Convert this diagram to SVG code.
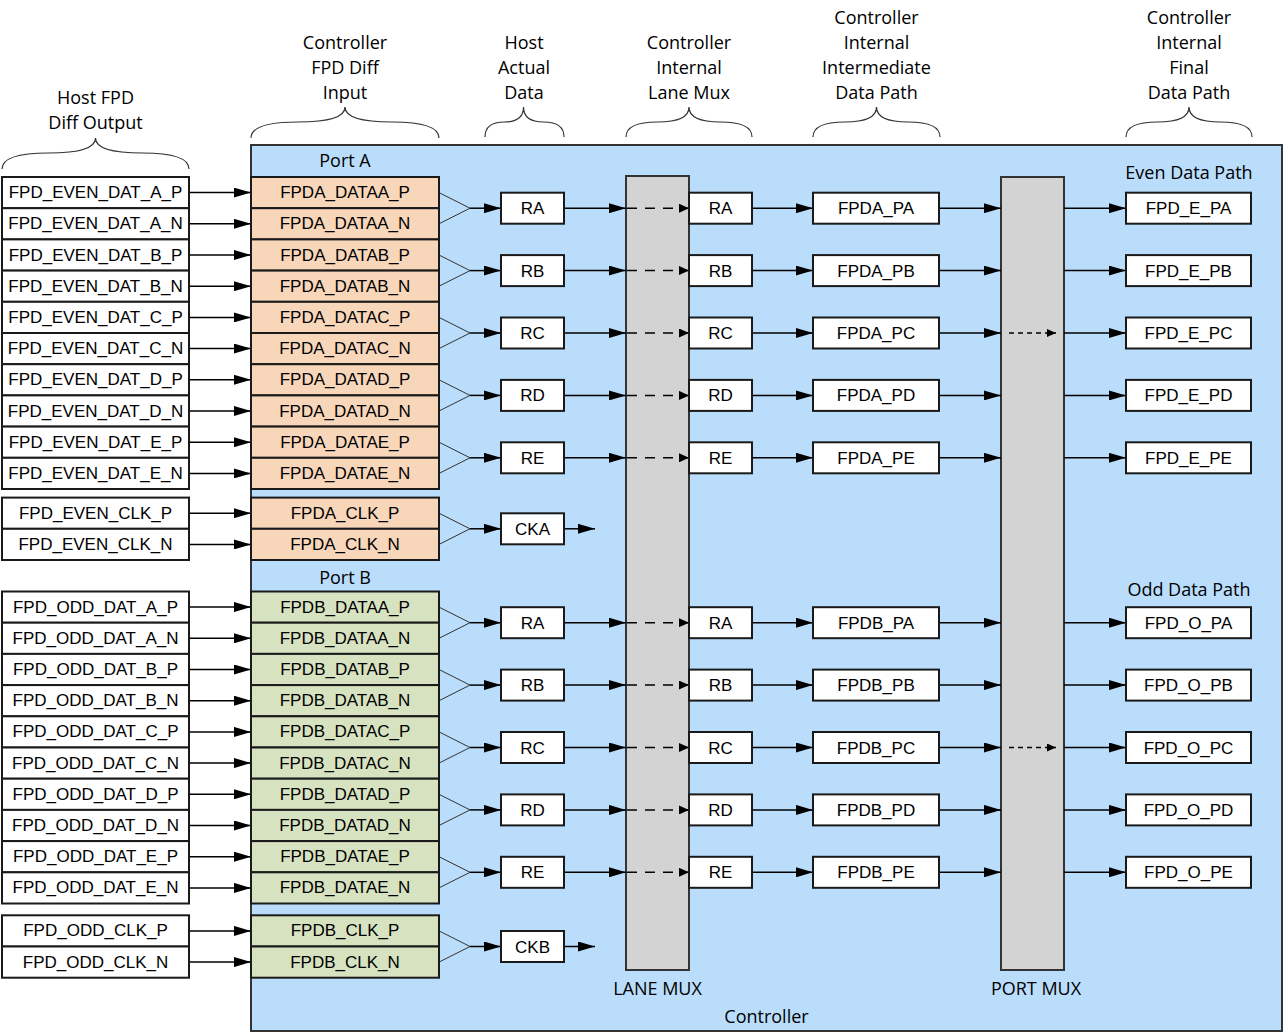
<svg xmlns="http://www.w3.org/2000/svg" width="1284" height="1034" viewBox="0 0 1284 1034">
<style>
.bx{fill:#fff;stroke:#1a1a1a;stroke-width:2}
.pe{fill:#F8D6BA;stroke:#1a1a1a;stroke-width:2}
.gr{fill:#D7E3C0;stroke:#1a1a1a;stroke-width:2}
.mux{fill:#D3D3D3;stroke:#333;stroke-width:2}
.ctl{fill:#BADDFB;stroke:#333;stroke-width:2}
.t{font-family:"Liberation Sans",Arial,sans-serif;font-size:17px;text-anchor:middle;fill:#000}
.h{font-family:"Open Sans","Liberation Sans",sans-serif;font-size:18px;text-anchor:middle;fill:#000}
.c{stroke:#000;stroke-width:1.5;fill:none}
.a{marker-end:url(#ah)}
.m{stroke:#333;stroke-width:1;fill:none}
.d1{stroke-dasharray:10 8;marker-end:url(#sh)}
.d2{stroke-dasharray:5 4;marker-end:url(#sh2)}
.br{stroke:#333;stroke-width:1.2;fill:none}
</style>
<defs>
<marker id="ah" markerUnits="userSpaceOnUse" markerWidth="17" markerHeight="10" refX="17" refY="5" orient="auto"><path d="M0,0 L17,5 L0,10 Z" fill="#000"/></marker>
<marker id="sh" markerUnits="userSpaceOnUse" markerWidth="10" markerHeight="9" refX="10" refY="4.5" orient="auto"><path d="M0,0 L10,4.5 L0,9 Z" fill="#000"/></marker>
<marker id="sh2" markerUnits="userSpaceOnUse" markerWidth="9" markerHeight="8" refX="9" refY="4" orient="auto"><path d="M0,0 L9,4 L0,8 Z" fill="#000"/></marker>
</defs>

<g id="headers">
<text class="h" x="95.5" y="104">Host FPD</text>
<text class="h" x="95.5" y="129">Diff Output</text>
<text class="h" x="345" y="48.5">Controller</text>
<text class="h" x="345" y="73.5">FPD Diff</text>
<text class="h" x="345" y="98.5">Input</text>
<text class="h" x="524" y="48.5">Host</text>
<text class="h" x="524" y="73.5">Actual</text>
<text class="h" x="524" y="98.5">Data</text>
<text class="h" x="689" y="48.5">Controller</text>
<text class="h" x="689" y="73.5">Internal</text>
<text class="h" x="689" y="98.5">Lane Mux</text>
<text class="h" x="876.5" y="23.5">Controller</text>
<text class="h" x="876.5" y="48.5">Internal</text>
<text class="h" x="876.5" y="73.5">Intermediate</text>
<text class="h" x="876.5" y="98.5">Data Path</text>
<text class="h" x="1189" y="23.5">Controller</text>
<text class="h" x="1189" y="48.5">Internal</text>
<text class="h" x="1189" y="73.5">Final</text>
<text class="h" x="1189" y="98.5">Data Path</text>
</g>
<g id="braces">
<path class="br" d="M2,169 Q2,153 48.75,153 Q95.5,153 95.5,138 Q95.5,153 142.25,153 Q189,153 189,169"/>
<path class="br" d="M251,138 Q251,122 298,122 Q345,122 345,107 Q345,122 392,122 Q439,122 439,138"/>
<path class="br" d="M485,137 Q485,122 504.25,122 Q523.5,122 523.5,107 Q523.5,122 543.75,122 Q564,122 564,137"/>
<path class="br" d="M626,137 Q626,122 657.5,122 Q689,122 689,107 Q689,122 720.5,122 Q752,122 752,137"/>
<path class="br" d="M813,137 Q813,122 844.75,122 Q876.5,122 876.5,107 Q876.5,122 908.25,122 Q940,122 940,137"/>
<path class="br" d="M1126,137 Q1126,122 1157.5,122 Q1189,122 1189,107 Q1189,122 1220.5,122 Q1252,122 1252,137"/>
</g>

<g id="controller">
<rect class="ctl" x="251" y="145" width="1031" height="886"/>
<text class="h" x="766.5" y="1023">Controller</text>
<text class="h" x="345" y="167">Port A</text>
<text class="h" x="345" y="584">Port B</text>
<text class="h" x="1189" y="179">Even Data Path</text>
<text class="h" x="1189" y="596">Odd Data Path</text>
</g>

<g id="lane-mux">
<rect class="mux" x="626" y="176" width="63" height="794"/>
<text class="h" x="657.5" y="995">LANE MUX</text>
</g>
<g id="port-mux">
<rect class="mux" x="1001" y="177" width="63" height="793"/>
<text class="h" x="1036" y="995">PORT MUX</text>
</g>

<g id="connectors">
<path class="c a" d="M189,192.6H251"/><path class="c a" d="M189,223.8H251"/><path class="c a" d="M189,255H251"/><path class="c a" d="M189,286.2H251"/><path class="c a" d="M189,317.4H251"/><path class="c a" d="M189,348.6H251"/><path class="c a" d="M189,379.8H251"/><path class="c a" d="M189,411H251"/><path class="c a" d="M189,442.2H251"/><path class="c a" d="M189,473.4H251"/>
<path class="c a" d="M189,513.2H251"/><path class="c a" d="M189,544.4H251"/>
<path class="c a" d="M189,607.1H251"/><path class="c a" d="M189,638.3H251"/><path class="c a" d="M189,669.5H251"/><path class="c a" d="M189,700.7H251"/><path class="c a" d="M189,731.9H251"/><path class="c a" d="M189,763.1H251"/><path class="c a" d="M189,794.3H251"/><path class="c a" d="M189,825.5H251"/><path class="c a" d="M189,856.7H251"/><path class="c a" d="M189,887.9H251"/>
<path class="c a" d="M189,930.9H251"/><path class="c a" d="M189,962.1H251"/>
<path class="m" d="M439,192.6L470,208.2L439,223.8 M439,255L470,270.6L439,286.2 M439,317.4L470,333L439,348.6 M439,379.8L470,395.4L439,411 M439,442.2L470,457.8L439,473.4 M439,513.2L470,528.8L439,544.4"/>
<path class="m" d="M439,607.1L470,622.7L439,638.3 M439,669.5L470,685.1L439,700.7 M439,731.9L470,747.5L439,763.1 M439,794.3L470,809.9L439,825.5 M439,856.7L470,872.3L439,887.9 M439,930.9L470,946.5L439,962.1"/>
<path class="c a" d="M470,208.2H501"/><path class="c a" d="M470,270.6H501"/><path class="c a" d="M470,333H501"/><path class="c a" d="M470,395.4H501"/><path class="c a" d="M470,457.8H501"/><path class="c a" d="M470,528.8H501"/>
<path class="c a" d="M470,622.7H501"/><path class="c a" d="M470,685.1H501"/><path class="c a" d="M470,747.5H501"/><path class="c a" d="M470,809.9H501"/><path class="c a" d="M470,872.3H501"/><path class="c a" d="M470,946.5H501"/>
<path class="c a" d="M564,528.8H595"/><path class="c a" d="M564,946.5H595"/>
<path class="c a" d="M564,208.2H626"/><path class="c a" d="M564,270.6H626"/><path class="c a" d="M564,333H626"/><path class="c a" d="M564,395.4H626"/><path class="c a" d="M564,457.8H626"/>
<path class="c a" d="M564,622.7H626"/><path class="c a" d="M564,685.1H626"/><path class="c a" d="M564,747.5H626"/><path class="c a" d="M564,809.9H626"/><path class="c a" d="M564,872.3H626"/>
<path class="c d1" d="M627,208.2H689"/><path class="c d1" d="M627,270.6H689"/><path class="c d1" d="M627,333H689"/><path class="c d1" d="M627,395.4H689"/><path class="c d1" d="M627,457.8H689"/>
<path class="c d1" d="M627,622.7H689"/><path class="c d1" d="M627,685.1H689"/><path class="c d1" d="M627,747.5H689"/><path class="c d1" d="M627,809.9H689"/><path class="c d1" d="M627,872.3H689"/>
<path class="c a" d="M752,208.2H813"/><path class="c a" d="M752,270.6H813"/><path class="c a" d="M752,333H813"/><path class="c a" d="M752,395.4H813"/><path class="c a" d="M752,457.8H813"/>
<path class="c a" d="M752,622.7H813"/><path class="c a" d="M752,685.1H813"/><path class="c a" d="M752,747.5H813"/><path class="c a" d="M752,809.9H813"/><path class="c a" d="M752,872.3H813"/>
<path class="c a" d="M939,208.2H1001"/><path class="c a" d="M939,270.6H1001"/><path class="c a" d="M939,333H1001"/><path class="c a" d="M939,395.4H1001"/><path class="c a" d="M939,457.8H1001"/>
<path class="c a" d="M939,622.7H1001"/><path class="c a" d="M939,685.1H1001"/><path class="c a" d="M939,747.5H1001"/><path class="c a" d="M939,809.9H1001"/><path class="c a" d="M939,872.3H1001"/>
<path class="c d2" d="M1009,333H1056"/><path class="c d2" d="M1009,747.5H1056"/>
<path class="c a" d="M1064,208.2H1126"/><path class="c a" d="M1064,270.6H1126"/><path class="c a" d="M1064,333H1126"/><path class="c a" d="M1064,395.4H1126"/><path class="c a" d="M1064,457.8H1126"/>
<path class="c a" d="M1064,622.7H1126"/><path class="c a" d="M1064,685.1H1126"/><path class="c a" d="M1064,747.5H1126"/><path class="c a" d="M1064,809.9H1126"/><path class="c a" d="M1064,872.3H1126"/>
</g>

<g id="host-even">
<g id="h-ea-p"><rect class="bx" x="2" y="177" width="187" height="31.2"/><text class="t" x="95.5" y="198.1">FPD_EVEN_DAT_A_P</text></g>
<g id="h-ea-n"><rect class="bx" x="2" y="208.2" width="187" height="31.2"/><text class="t" x="95.5" y="229.3">FPD_EVEN_DAT_A_N</text></g>
<g id="h-eb-p"><rect class="bx" x="2" y="239.4" width="187" height="31.2"/><text class="t" x="95.5" y="260.5">FPD_EVEN_DAT_B_P</text></g>
<g id="h-eb-n"><rect class="bx" x="2" y="270.6" width="187" height="31.2"/><text class="t" x="95.5" y="291.7">FPD_EVEN_DAT_B_N</text></g>
<g id="h-ec-p"><rect class="bx" x="2" y="301.8" width="187" height="31.2"/><text class="t" x="95.5" y="322.9">FPD_EVEN_DAT_C_P</text></g>
<g id="h-ec-n"><rect class="bx" x="2" y="333" width="187" height="31.2"/><text class="t" x="95.5" y="354.1">FPD_EVEN_DAT_C_N</text></g>
<g id="h-ed-p"><rect class="bx" x="2" y="364.2" width="187" height="31.2"/><text class="t" x="95.5" y="385.3">FPD_EVEN_DAT_D_P</text></g>
<g id="h-ed-n"><rect class="bx" x="2" y="395.4" width="187" height="31.2"/><text class="t" x="95.5" y="416.5">FPD_EVEN_DAT_D_N</text></g>
<g id="h-ee-p"><rect class="bx" x="2" y="426.6" width="187" height="31.2"/><text class="t" x="95.5" y="447.7">FPD_EVEN_DAT_E_P</text></g>
<g id="h-ee-n"><rect class="bx" x="2" y="457.8" width="187" height="31.2"/><text class="t" x="95.5" y="478.9">FPD_EVEN_DAT_E_N</text></g>
<g id="h-eclk-p"><rect class="bx" x="2" y="497.6" width="187" height="31.2"/><text class="t" x="95.5" y="518.7">FPD_EVEN_CLK_P</text></g>
<g id="h-eclk-n"><rect class="bx" x="2" y="528.8" width="187" height="31.2"/><text class="t" x="95.5" y="549.9">FPD_EVEN_CLK_N</text></g>
</g>
<g id="host-odd">
<g id="h-oa-p"><rect class="bx" x="2" y="591.5" width="187" height="31.2"/><text class="t" x="95.5" y="612.6">FPD_ODD_DAT_A_P</text></g>
<g id="h-oa-n"><rect class="bx" x="2" y="622.7" width="187" height="31.2"/><text class="t" x="95.5" y="643.8">FPD_ODD_DAT_A_N</text></g>
<g id="h-ob-p"><rect class="bx" x="2" y="653.9" width="187" height="31.2"/><text class="t" x="95.5" y="675">FPD_ODD_DAT_B_P</text></g>
<g id="h-ob-n"><rect class="bx" x="2" y="685.1" width="187" height="31.2"/><text class="t" x="95.5" y="706.2">FPD_ODD_DAT_B_N</text></g>
<g id="h-oc-p"><rect class="bx" x="2" y="716.3" width="187" height="31.2"/><text class="t" x="95.5" y="737.4">FPD_ODD_DAT_C_P</text></g>
<g id="h-oc-n"><rect class="bx" x="2" y="747.5" width="187" height="31.2"/><text class="t" x="95.5" y="768.6">FPD_ODD_DAT_C_N</text></g>
<g id="h-od-p"><rect class="bx" x="2" y="778.7" width="187" height="31.2"/><text class="t" x="95.5" y="799.8">FPD_ODD_DAT_D_P</text></g>
<g id="h-od-n"><rect class="bx" x="2" y="809.9" width="187" height="31.2"/><text class="t" x="95.5" y="831">FPD_ODD_DAT_D_N</text></g>
<g id="h-oe-p"><rect class="bx" x="2" y="841.1" width="187" height="31.2"/><text class="t" x="95.5" y="862.2">FPD_ODD_DAT_E_P</text></g>
<g id="h-oe-n"><rect class="bx" x="2" y="872.3" width="187" height="31.2"/><text class="t" x="95.5" y="893.4">FPD_ODD_DAT_E_N</text></g>
<g id="h-oclk-p"><rect class="bx" x="2" y="915.3" width="187" height="31.2"/><text class="t" x="95.5" y="936.4">FPD_ODD_CLK_P</text></g>
<g id="h-oclk-n"><rect class="bx" x="2" y="946.5" width="187" height="31.2"/><text class="t" x="95.5" y="967.6">FPD_ODD_CLK_N</text></g>
</g>

<g id="port-a">
<g id="a-a-p"><rect class="pe" x="251" y="177" width="188" height="31.2"/><text class="t" x="345" y="198.1">FPDA_DATAA_P</text></g>
<g id="a-a-n"><rect class="pe" x="251" y="208.2" width="188" height="31.2"/><text class="t" x="345" y="229.3">FPDA_DATAA_N</text></g>
<g id="a-b-p"><rect class="pe" x="251" y="239.4" width="188" height="31.2"/><text class="t" x="345" y="260.5">FPDA_DATAB_P</text></g>
<g id="a-b-n"><rect class="pe" x="251" y="270.6" width="188" height="31.2"/><text class="t" x="345" y="291.7">FPDA_DATAB_N</text></g>
<g id="a-c-p"><rect class="pe" x="251" y="301.8" width="188" height="31.2"/><text class="t" x="345" y="322.9">FPDA_DATAC_P</text></g>
<g id="a-c-n"><rect class="pe" x="251" y="333" width="188" height="31.2"/><text class="t" x="345" y="354.1">FPDA_DATAC_N</text></g>
<g id="a-d-p"><rect class="pe" x="251" y="364.2" width="188" height="31.2"/><text class="t" x="345" y="385.3">FPDA_DATAD_P</text></g>
<g id="a-d-n"><rect class="pe" x="251" y="395.4" width="188" height="31.2"/><text class="t" x="345" y="416.5">FPDA_DATAD_N</text></g>
<g id="a-e-p"><rect class="pe" x="251" y="426.6" width="188" height="31.2"/><text class="t" x="345" y="447.7">FPDA_DATAE_P</text></g>
<g id="a-e-n"><rect class="pe" x="251" y="457.8" width="188" height="31.2"/><text class="t" x="345" y="478.9">FPDA_DATAE_N</text></g>
<g id="a-clk-p"><rect class="pe" x="251" y="497.6" width="188" height="31.2"/><text class="t" x="345" y="518.7">FPDA_CLK_P</text></g>
<g id="a-clk-n"><rect class="pe" x="251" y="528.8" width="188" height="31.2"/><text class="t" x="345" y="549.9">FPDA_CLK_N</text></g>
</g>
<g id="port-b">
<g id="b-a-p"><rect class="gr" x="251" y="591.5" width="188" height="31.2"/><text class="t" x="345" y="612.6">FPDB_DATAA_P</text></g>
<g id="b-a-n"><rect class="gr" x="251" y="622.7" width="188" height="31.2"/><text class="t" x="345" y="643.8">FPDB_DATAA_N</text></g>
<g id="b-b-p"><rect class="gr" x="251" y="653.9" width="188" height="31.2"/><text class="t" x="345" y="675">FPDB_DATAB_P</text></g>
<g id="b-b-n"><rect class="gr" x="251" y="685.1" width="188" height="31.2"/><text class="t" x="345" y="706.2">FPDB_DATAB_N</text></g>
<g id="b-c-p"><rect class="gr" x="251" y="716.3" width="188" height="31.2"/><text class="t" x="345" y="737.4">FPDB_DATAC_P</text></g>
<g id="b-c-n"><rect class="gr" x="251" y="747.5" width="188" height="31.2"/><text class="t" x="345" y="768.6">FPDB_DATAC_N</text></g>
<g id="b-d-p"><rect class="gr" x="251" y="778.7" width="188" height="31.2"/><text class="t" x="345" y="799.8">FPDB_DATAD_P</text></g>
<g id="b-d-n"><rect class="gr" x="251" y="809.9" width="188" height="31.2"/><text class="t" x="345" y="831">FPDB_DATAD_N</text></g>
<g id="b-e-p"><rect class="gr" x="251" y="841.1" width="188" height="31.2"/><text class="t" x="345" y="862.2">FPDB_DATAE_P</text></g>
<g id="b-e-n"><rect class="gr" x="251" y="872.3" width="188" height="31.2"/><text class="t" x="345" y="893.4">FPDB_DATAE_N</text></g>
<g id="b-clk-p"><rect class="gr" x="251" y="915.3" width="188" height="31.2"/><text class="t" x="345" y="936.4">FPDB_CLK_P</text></g>
<g id="b-clk-n"><rect class="gr" x="251" y="946.5" width="188" height="31.2"/><text class="t" x="345" y="967.6">FPDB_CLK_N</text></g>
</g>

<g id="actual-data">
<g id="r-ea"><rect class="bx" x="501" y="192.7" width="63" height="31"/><text class="t" x="532.5" y="214.2">RA</text></g>
<g id="r-eb"><rect class="bx" x="501" y="255.1" width="63" height="31"/><text class="t" x="532.5" y="276.6">RB</text></g>
<g id="r-ec"><rect class="bx" x="501" y="317.5" width="63" height="31"/><text class="t" x="532.5" y="339">RC</text></g>
<g id="r-ed"><rect class="bx" x="501" y="379.9" width="63" height="31"/><text class="t" x="532.5" y="401.4">RD</text></g>
<g id="r-ee"><rect class="bx" x="501" y="442.3" width="63" height="31"/><text class="t" x="532.5" y="463.8">RE</text></g>
<g id="cka"><rect class="bx" x="501" y="513.3" width="63" height="31"/><text class="t" x="532.5" y="534.8">CKA</text></g>
<g id="r-oa"><rect class="bx" x="501" y="607.2" width="63" height="31"/><text class="t" x="532.5" y="628.7">RA</text></g>
<g id="r-ob"><rect class="bx" x="501" y="669.6" width="63" height="31"/><text class="t" x="532.5" y="691.1">RB</text></g>
<g id="r-oc"><rect class="bx" x="501" y="732" width="63" height="31"/><text class="t" x="532.5" y="753.5">RC</text></g>
<g id="r-od"><rect class="bx" x="501" y="794.4" width="63" height="31"/><text class="t" x="532.5" y="815.9">RD</text></g>
<g id="r-oe"><rect class="bx" x="501" y="856.8" width="63" height="31"/><text class="t" x="532.5" y="878.3">RE</text></g>
<g id="ckb"><rect class="bx" x="501" y="931" width="63" height="31"/><text class="t" x="532.5" y="952.5">CKB</text></g>
</g>

<g id="lane-out">
<g id="l-ea"><rect class="bx" x="689" y="192.7" width="63" height="31"/><text class="t" x="720.5" y="214.2">RA</text></g>
<g id="l-eb"><rect class="bx" x="689" y="255.1" width="63" height="31"/><text class="t" x="720.5" y="276.6">RB</text></g>
<g id="l-ec"><rect class="bx" x="689" y="317.5" width="63" height="31"/><text class="t" x="720.5" y="339">RC</text></g>
<g id="l-ed"><rect class="bx" x="689" y="379.9" width="63" height="31"/><text class="t" x="720.5" y="401.4">RD</text></g>
<g id="l-ee"><rect class="bx" x="689" y="442.3" width="63" height="31"/><text class="t" x="720.5" y="463.8">RE</text></g>
<g id="l-oa"><rect class="bx" x="689" y="607.2" width="63" height="31"/><text class="t" x="720.5" y="628.7">RA</text></g>
<g id="l-ob"><rect class="bx" x="689" y="669.6" width="63" height="31"/><text class="t" x="720.5" y="691.1">RB</text></g>
<g id="l-oc"><rect class="bx" x="689" y="732" width="63" height="31"/><text class="t" x="720.5" y="753.5">RC</text></g>
<g id="l-od"><rect class="bx" x="689" y="794.4" width="63" height="31"/><text class="t" x="720.5" y="815.9">RD</text></g>
<g id="l-oe"><rect class="bx" x="689" y="856.8" width="63" height="31"/><text class="t" x="720.5" y="878.3">RE</text></g>
</g>

<g id="intermediate">
<g id="i-pa"><rect class="bx" x="813" y="192.7" width="126" height="31"/><text class="t" x="876" y="214.2">FPDA_PA</text></g>
<g id="i-pb"><rect class="bx" x="813" y="255.1" width="126" height="31"/><text class="t" x="876" y="276.6">FPDA_PB</text></g>
<g id="i-pc"><rect class="bx" x="813" y="317.5" width="126" height="31"/><text class="t" x="876" y="339">FPDA_PC</text></g>
<g id="i-pd"><rect class="bx" x="813" y="379.9" width="126" height="31"/><text class="t" x="876" y="401.4">FPDA_PD</text></g>
<g id="i-pe"><rect class="bx" x="813" y="442.3" width="126" height="31"/><text class="t" x="876" y="463.8">FPDA_PE</text></g>
<g id="i-bpa"><rect class="bx" x="813" y="607.2" width="126" height="31"/><text class="t" x="876" y="628.7">FPDB_PA</text></g>
<g id="i-bpb"><rect class="bx" x="813" y="669.6" width="126" height="31"/><text class="t" x="876" y="691.1">FPDB_PB</text></g>
<g id="i-bpc"><rect class="bx" x="813" y="732" width="126" height="31"/><text class="t" x="876" y="753.5">FPDB_PC</text></g>
<g id="i-bpd"><rect class="bx" x="813" y="794.4" width="126" height="31"/><text class="t" x="876" y="815.9">FPDB_PD</text></g>
<g id="i-bpe"><rect class="bx" x="813" y="856.8" width="126" height="31"/><text class="t" x="876" y="878.3">FPDB_PE</text></g>
</g>

<g id="final">
<g id="f-epa"><rect class="bx" x="1126" y="192.7" width="125" height="31"/><text class="t" x="1188.5" y="214.2">FPD_E_PA</text></g>
<g id="f-epb"><rect class="bx" x="1126" y="255.1" width="125" height="31"/><text class="t" x="1188.5" y="276.6">FPD_E_PB</text></g>
<g id="f-epc"><rect class="bx" x="1126" y="317.5" width="125" height="31"/><text class="t" x="1188.5" y="339">FPD_E_PC</text></g>
<g id="f-epd"><rect class="bx" x="1126" y="379.9" width="125" height="31"/><text class="t" x="1188.5" y="401.4">FPD_E_PD</text></g>
<g id="f-epe"><rect class="bx" x="1126" y="442.3" width="125" height="31"/><text class="t" x="1188.5" y="463.8">FPD_E_PE</text></g>
<g id="f-opa"><rect class="bx" x="1126" y="607.2" width="125" height="31"/><text class="t" x="1188.5" y="628.7">FPD_O_PA</text></g>
<g id="f-opb"><rect class="bx" x="1126" y="669.6" width="125" height="31"/><text class="t" x="1188.5" y="691.1">FPD_O_PB</text></g>
<g id="f-opc"><rect class="bx" x="1126" y="732" width="125" height="31"/><text class="t" x="1188.5" y="753.5">FPD_O_PC</text></g>
<g id="f-opd"><rect class="bx" x="1126" y="794.4" width="125" height="31"/><text class="t" x="1188.5" y="815.9">FPD_O_PD</text></g>
<g id="f-ope"><rect class="bx" x="1126" y="856.8" width="125" height="31"/><text class="t" x="1188.5" y="878.3">FPD_O_PE</text></g>
</g>
</svg>
